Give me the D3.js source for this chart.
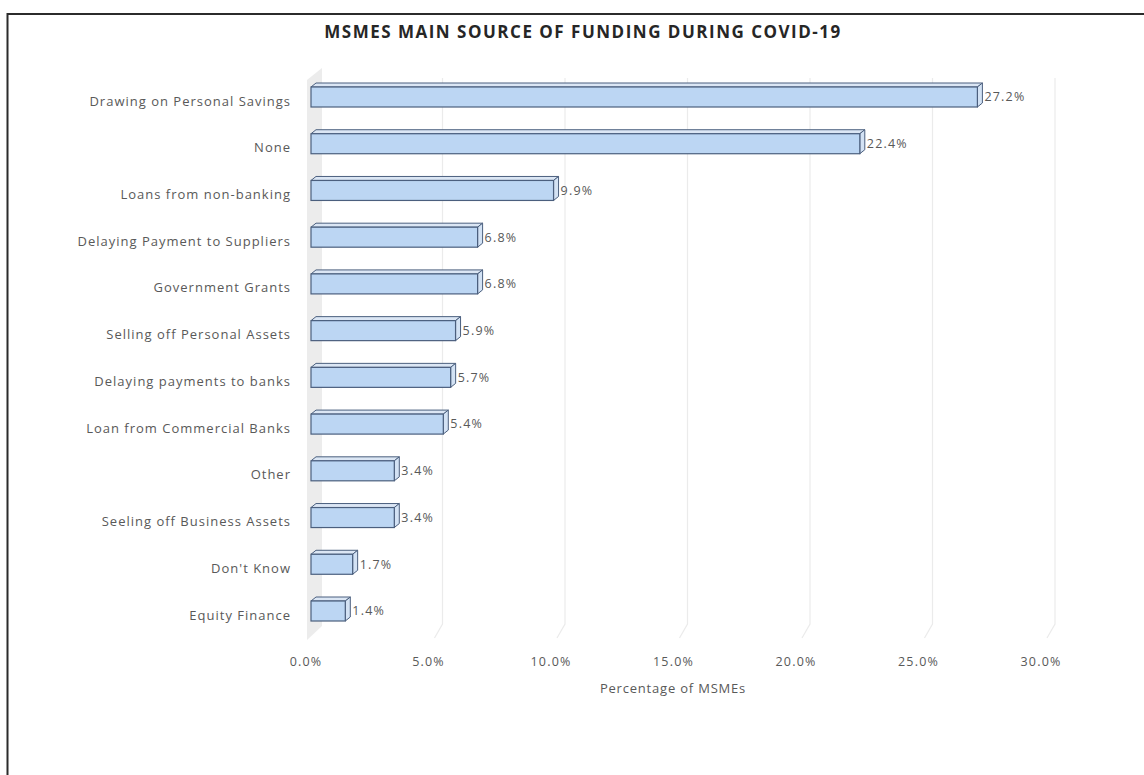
<!DOCTYPE html>
<html><head><meta charset="utf-8">
<script src="https://cdn.jsdelivr.net/npm/d3@7"></script>
<style>
html,body{margin:0;padding:0;background:#fff;}
svg{display:block;font-family:"Open Sans","Noto Sans",sans-serif;}
</style></head><body>
<svg id="chart" width="1144" height="775"></svg>
<script>
const categories = ["Drawing on Personal Savings","None","Loans from non-banking","Delaying Payment to Suppliers","Government Grants","Selling off Personal Assets","Delaying payments to banks","Loan from Commercial Banks","Other","Seeling off Business Assets","Don't Know","Equity Finance"];
const values = [27.2,22.4,9.9,6.8,6.8,5.9,5.7,5.4,3.4,3.4,1.7,1.4];
const tickValues = [0,5,10,15,20,25,30];
const titleText = "MSMES MAIN SOURCE OF FUNDING DURING COVID-19";
const axisTitle = "Percentage of MSMEs";

(function(){
const svg = d3.select("#chart");
const W = 1144, H = 775;
svg.append("rect").attr("x",0).attr("y",0).attr("width",W).attr("height",H).attr("fill","#fff");
svg.append("rect").attr("x",7.5).attr("y",14).attr("width",1200).attr("height",800)
  .attr("fill","#fff").attr("stroke","#2b2b2b").attr("stroke-width",2);

const x = d3.scaleLinear().domain([0,30]).range([311,1046]);
const y = d3.scalePoint().domain(categories).range([97,611]);
const dx = 5, dy = 4, bh = 20;
const backDx = 9, frontDx = -5;
const plotTop = 68, plotBottom = 632;

svg.append("polygon")
  .attr("points",[[x(0)-4,plotTop+12],[x(0)+backDx+2,plotTop],[x(0)+backDx+2,plotBottom-6],[x(0)-4,plotBottom+8]].map(p=>p.join(",")).join(" "))
  .attr("fill","#ececec");

const g = svg.append("g");
tickValues.filter(v=>v>0).forEach(v=>{
  const gx = x(v)+backDx;
  g.append("path")
   .attr("d",`M${gx},${plotTop+10}L${gx},${plotBottom-8}L${gx-8},${plotBottom+6}`)
   .attr("fill","none").attr("stroke","#ebebeb").attr("stroke-width",1.2);
});

const bars = svg.append("g").selectAll("g").data(categories).join("g");
bars.each(function(c,i){
  const sel = d3.select(this);
  const x0 = x(0), x1 = x(values[i]);
  const y0 = y(c)-bh/2, y1 = y(c)+bh/2;
  const stroke = "#4b5f7e";
  sel.append("polygon")
    .attr("points",[[x0,y0],[x0+dx,y0-dy],[x1+dx,y0-dy],[x1,y0]].map(p=>p.join(",")).join(" "))
    .attr("fill","#dbe6f4").attr("stroke",stroke).attr("stroke-width",1).attr("stroke-linejoin","round");
  sel.append("polygon")
    .attr("points",[[x1,y0],[x1+dx,y0-dy],[x1+dx,y1-dy],[x1,y1]].map(p=>p.join(",")).join(" "))
    .attr("fill","#d3e2f4").attr("stroke",stroke).attr("stroke-width",1).attr("stroke-linejoin","round");
  sel.append("rect").attr("x",x0).attr("y",y0).attr("width",x1-x0).attr("height",bh)
    .attr("fill","#bcd6f3").attr("stroke",stroke).attr("stroke-width",1.2);
  sel.append("text").attr("x",x1+dx+2).attr("y",y(c)).attr("dy","0.35em")
    .attr("font-size",12.5).attr("letter-spacing",1.2).attr("fill","#595959").text(values[i].toFixed(1)+"%");
});

svg.append("g").selectAll("text").data(categories).join("text")
  .attr("x",291).attr("y",d=>y(d)+4).attr("dy","0.35em").attr("text-anchor","end")
  .attr("font-size",13).attr("letter-spacing",1).attr("fill","#595959").text(d=>d);

svg.append("g").selectAll("text").data(tickValues).join("text")
  .attr("x",d=>x(d)+frontDx).attr("y",662).attr("dy","0.35em").attr("text-anchor","middle")
  .attr("font-size",12.5).attr("letter-spacing",1.2).attr("fill","#595959").text(d=>d.toFixed(1)+"%");

svg.append("text").attr("x",673).attr("y",688).attr("dy","0.35em").attr("text-anchor","middle")
  .attr("font-size",13).attr("letter-spacing",0.8).attr("fill","#595959").text(axisTitle);

svg.append("text").attr("x",583).attr("y",32).attr("dy","0.35em").attr("text-anchor","middle")
  .attr("font-size",17).attr("letter-spacing",1.5).attr("font-weight","bold").attr("fill","#262626").text(titleText);
})();
</script></body></html>
